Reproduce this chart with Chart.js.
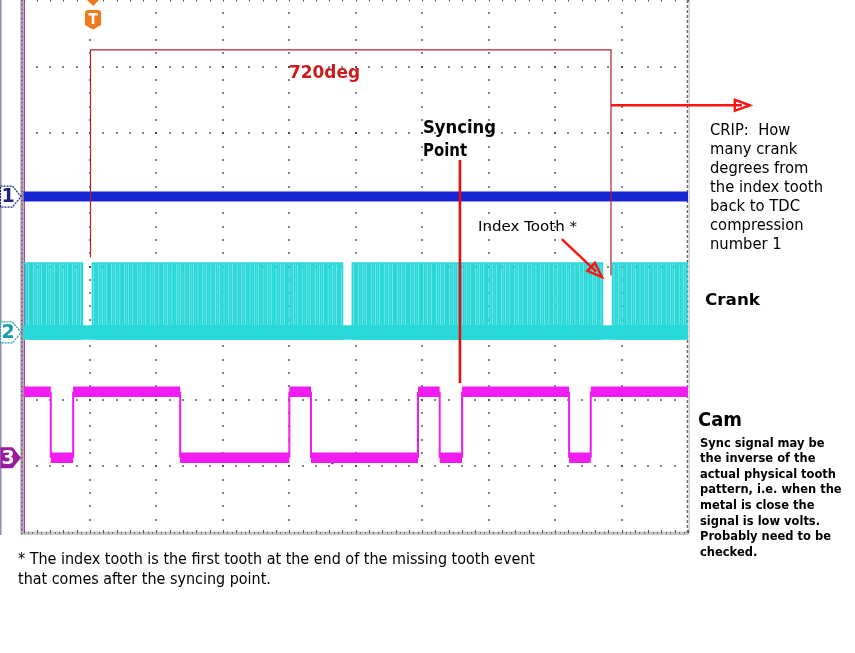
<!DOCTYPE html>
<html>
<head>
<meta charset="utf-8">
<script src="https://cdn.jsdelivr.net/npm/chart.js@4.4.0/dist/chart.umd.min.js"></script>
<style>
  html, body { margin: 0; padding: 0; background: #ffffff; }
  canvas { display: block; }
</style>
</head>
<body>
<canvas id="scope" width="855" height="653"></canvas>
<script>
// ---------------- DATA ----------------
// x axis: crank angle in degrees (0 = start of the 720deg window), y axis: screen divisions (0 = bottom)
const xRangeDeg = [-92.7, 826.5];
const yRangeDiv = [0, 8];

// Channel 1 (blue): flat line
const ch1Deg   = [-100, 835];
const ch1Level = [5.05, 5.05];

// Channel 2 (cyan): crank sensor, 60-2 trigger wheel
const crankRevStartDeg = [-357, 3, 362.5, 722.5];     // first tooth after each missing-tooth gap
const crankWheelSlots  = "111111111111111111111111111111111111111111111111111111111100"; // 58 teeth + 2 missing
const crankSlotDeg     = 6;
const crankToothHighDeg = 3.3;
const crankHighLevel   = 4.05;
const crankLowLevel    = 3.01;

// Channel 3 (magenta): cam sensor
const camEdgeDeg = [-55, -24, 124, 275, 305, 453, 483, 514, 662, 692];
const camLevel   = [2.12, 1.13, 2.12, 1.13, 2.12, 1.13, 2.12, 1.13, 2.12, 1.13, 2.12];

// small blue glitch near the cam trace
const glitchDeg   = [333.6, 344.2];
const glitchLevel = [1.04, 1.175];

// Annotations (data coordinates)
const windowDeg      = [0, 720];
const windowLevel    = 7.25;
const windowLegEnd   = [4.14, 3.87];
const syncDeg        = 511;
const syncLevels     = [5.6, 2.25];
const cripArrow      = [[720, 6.42], [912, 6.42]];
const indexArrow     = [[652, 4.41], [707.5, 3.84]];
const triggerDeg     = 3.5;

// ---------------- build series ----------------
const ch1Data = ch1Deg.map((x, i) => ({ x, y: ch1Level[i] }));

const crankData = [{ x: xRangeDeg[0] - 20, y: crankLowLevel }];
for (const r of crankRevStartDeg) {
  for (let j = 0; j < crankWheelSlots.length; j++) {
    if (crankWheelSlots[j] !== '1') continue;
    const a = r + j * crankSlotDeg;
    if (a + crankToothHighDeg < xRangeDeg[0] - 12 || a > xRangeDeg[1] + 12) continue;
    crankData.push({ x: a, y: crankLowLevel }, { x: a, y: crankHighLevel },
                   { x: a + crankToothHighDeg, y: crankHighLevel }, { x: a + crankToothHighDeg, y: crankLowLevel });
  }
}
crankData.push({ x: xRangeDeg[1] + 20, y: crankLowLevel });

const camData = [{ x: xRangeDeg[0] - 20, y: camLevel[0] }];
camEdgeDeg.forEach((e, i) => {
  camData.push({ x: e, y: camLevel[i] }, { x: e, y: camLevel[i + 1] });
});
camData.push({ x: xRangeDeg[1] + 20, y: camLevel[camLevel.length - 1] });

const glitchData = glitchDeg.map((x, i) => ({ x, y: glitchLevel[i] }));

const isFlat = c => c.p0.parsed.y === c.p1.parsed.y;

// ---------------- plugins ----------------
const FONT = '"DejaVu Sans", "Liberation Sans", sans-serif';

const paper = {
  id: 'paper',
  beforeDraw(chart) {
    const ctx = chart.ctx;
    ctx.save();
    ctx.fillStyle = '#ffffff';
    ctx.fillRect(0, 0, chart.width, chart.height);
    ctx.restore();
  }
};

const scopeGrid = {
  id: 'scopeGrid',
  beforeDatasetsDraw(chart) {
    const { ctx, chartArea: a, scales: { x, y } } = chart;
    const div = (xRangeDeg[1] - xRangeDeg[0]) / 10;
    ctx.save();
    // outer frame
    ctx.fillStyle = '#8a8fb4';
    ctx.fillRect(0, 0, 1.5, a.bottom + 2);
    ctx.fillStyle = '#9a9a9a';
    ctx.fillRect(a.left - 3, 0, 2.5, a.bottom + 2);
    ctx.fillStyle = '#c8c8c8';
    ctx.fillRect(a.left - 3, a.bottom - 1.5, a.right - a.left + 3, 3.5);
    ctx.fillStyle = '#b040b0';
    ctx.fillRect(a.left, 0, 1.5, a.bottom);
    // right dashed border
    ctx.strokeStyle = '#7a5a7a';
    ctx.lineWidth = 1.5;
    ctx.setLineDash([3, 2]);
    ctx.beginPath();
    ctx.moveTo(a.right - 0.5, 0);
    ctx.lineTo(a.right - 0.5, a.bottom);
    ctx.stroke();
    ctx.setLineDash([]);
    ctx.fillStyle = '#d8d0d8';
    ctx.fillRect(a.right + 0.5, 0, 1.5, a.bottom);

    // dotted grid
    ctx.fillStyle = '#2a2a2a';
    const dot = (px, py) => ctx.fillRect(Math.round(px) - 0.75, Math.round(py) - 0.75, 1.5, 1.5);
    for (let i = 1; i < 10; i++) {
      const px = x.getPixelForValue(xRangeDeg[0] + i * div);
      for (let k = 1; k < 40; k++) dot(px, y.getPixelForValue(k * 0.2));
    }
    for (let j = 1; j < 8; j++) {
      const py = y.getPixelForValue(j);
      for (let k = 1; k < 50; k++) dot(x.getPixelForValue(xRangeDeg[0] + k * div / 5), py);
    }
    // dense ticks on border lines
    ctx.fillStyle = '#555555';
    for (let k = 0; k <= 150; k++) {
      const px = x.getPixelForValue(xRangeDeg[0] + k * div / 15);
      ctx.fillRect(Math.round(px), a.bottom - 1, 1, 1.5);
    }
    for (let k = 0; k <= 50; k++) {
      const px = x.getPixelForValue(xRangeDeg[0] + k * div / 5);
      ctx.fillRect(Math.round(px), a.bottom - 3, 1, 3);
      ctx.fillRect(Math.round(px), 0, 1, 1.5);
    }
    for (let k = 0; k <= 120; k++) {
      const py = y.getPixelForValue(k * 8 / 120);
      ctx.fillRect(a.left - 2.5, Math.round(py), 1.5, 1);
    }
    ctx.restore();
  }
};

function arrowHead(ctx, x0, y0, x1, y1, len, half) {
  const ang = Math.atan2(y1 - y0, x1 - x0);
  const bx = x1 - len * Math.cos(ang), by = y1 - len * Math.sin(ang);
  const nx = -Math.sin(ang) * half, ny = Math.cos(ang) * half;
  ctx.beginPath();
  ctx.moveTo(x1, y1);
  ctx.lineTo(bx + nx, by + ny);
  ctx.lineTo(bx - nx, by - ny);
  ctx.closePath();
  ctx.stroke();
}

const annotations = {
  id: 'annotations',
  afterDatasetsDraw(chart) {
    const { ctx, scales: { x, y } } = chart;
    const X = v => x.getPixelForValue(v), Y = v => y.getPixelForValue(v);
    ctx.save();
    // 720 deg bracket
    ctx.strokeStyle = '#b8202c';
    ctx.lineWidth = 1.2;
    ctx.beginPath();
    ctx.moveTo(X(windowDeg[0]), Y(windowLegEnd[0]));
    ctx.lineTo(X(windowDeg[0]), Y(windowLevel));
    ctx.lineTo(X(windowDeg[1]), Y(windowLevel));
    ctx.lineTo(X(windowDeg[1]), Y(windowLegEnd[1]));
    ctx.stroke();
    // syncing point line
    ctx.strokeStyle = '#e80c0c';
    ctx.lineWidth = 2.6;
    ctx.beginPath();
    ctx.moveTo(X(syncDeg), Y(syncLevels[0]));
    ctx.lineTo(X(syncDeg), Y(syncLevels[1]));
    ctx.stroke();
    // arrows
    ctx.strokeStyle = '#ff1212';
    ctx.lineWidth = 2.4;
    for (const arr of [cripArrow, indexArrow]) {
      const x0 = X(arr[0][0]), y0 = Y(arr[0][1]), x1 = X(arr[1][0]), y1 = Y(arr[1][1]);
      const ang = Math.atan2(y1 - y0, x1 - x0);
      ctx.beginPath();
      ctx.moveTo(x0, y0);
      ctx.lineTo(x1 - 8 * Math.cos(ang), y1 - 8 * Math.sin(ang));
      ctx.stroke();
      ctx.lineWidth = 2.4;
      arrowHead(ctx, x0, y0, x1, y1, 15, 5.5);
    }
    ctx.restore();
  }
};

function drawText(ctx, s, x, base, size, weight, color, width) {
  ctx.save();
  ctx.font = `${weight} ${size}px ${FONT}`;
  const m = ctx.measureText(s).width;
  const sx = width ? width / m : 1;
  ctx.translate(x, base);
  ctx.scale(sx, 1);
  ctx.fillStyle = color;
  ctx.textBaseline = 'alphabetic';
  ctx.fillText(s, 0, 0);
  ctx.restore();
}
function drawBlock(ctx, lines, x, base, step, size, weight, color, refIdx, refWidth) {
  ctx.save();
  ctx.font = `${weight} ${size}px ${FONT}`;
  const sx = refWidth / ctx.measureText(lines[refIdx]).width;
  ctx.restore();
  lines.forEach((s, i) => {
    ctx.save();
    ctx.font = `${weight} ${size}px ${FONT}`;
    ctx.translate(x, base + i * step);
    ctx.scale(sx, 1);
    ctx.fillStyle = color;
    ctx.fillText(s, 0, 0);
    ctx.restore();
  });
}

function channelMarker(ctx, yc, color, label, filled) {
  ctx.save();
  ctx.beginPath();
  ctx.moveTo(0.5, yc - 10.5);
  ctx.lineTo(12.5, yc - 10.5);
  ctx.lineTo(21, yc);
  ctx.lineTo(12.5, yc + 10.5);
  ctx.lineTo(0.5, yc + 10.5);
  ctx.closePath();
  if (filled) {
    ctx.fillStyle = color;
    ctx.fill();
  } else {
    ctx.fillStyle = '#ffffff';
    ctx.fill();
    ctx.setLineDash([2, 1]);
    ctx.strokeStyle = color;
    ctx.lineWidth = 1.2;
    ctx.stroke();
  }
  ctx.setLineDash([]);
  ctx.font = `bold 19px ${FONT}`;
  ctx.fillStyle = filled ? '#ffffff' : color;
  ctx.textBaseline = 'middle';
  ctx.fillText(label, 1.5, yc + 1);
  ctx.restore();
}

const overlay = {
  id: 'overlay',
  afterDraw(chart) {
    const { ctx, scales: { x, y } } = chart;
    // trigger marker
    const tx = x.getPixelForValue(triggerDeg);
    ctx.save();
    ctx.fillStyle = '#f07a1a';
    ctx.beginPath();
    ctx.moveTo(tx - 6, 0); ctx.lineTo(tx + 6, 0); ctx.lineTo(tx, 6); ctx.closePath();
    ctx.fill();
    ctx.beginPath();
    ctx.moveTo(tx - 8, 13); ctx.quadraticCurveTo(tx - 8, 10, tx - 5, 10);
    ctx.lineTo(tx + 5, 10); ctx.quadraticCurveTo(tx + 8, 10, tx + 8, 13);
    ctx.lineTo(tx + 8, 25); ctx.lineTo(tx, 29.5); ctx.lineTo(tx - 8, 25); ctx.closePath();
    ctx.fill();
    ctx.fillStyle = '#ffffff';
    ctx.fillRect(tx - 4.5, 13, 9, 2.5);
    ctx.fillRect(tx - 1.3, 13, 2.6, 11);
    ctx.restore();

    // channel markers
    channelMarker(ctx, y.getPixelForValue(ch1Level[0]), '#1c2480', '1', false);
    channelMarker(ctx, y.getPixelForValue(crankLowLevel), '#18a0a8', '2', false);
    channelMarker(ctx, y.getPixelForValue(camLevel[1]), '#9a1aa0', '3', true);

    // texts
    drawText(ctx, '720deg', 289, 78, 18, 'bold', '#cc1a1a', 71);
    drawText(ctx, 'Syncing', 423, 133, 17, 'bold', '#000000', 73);
    drawText(ctx, 'Point', 423, 155.5, 17, 'bold', '#000000', 44);
    drawText(ctx, 'Index Tooth *', 478, 231, 14, 'normal', '#000000', 99);
    drawBlock(ctx, ['CRIP:  How', 'many crank', 'degrees from', 'the index tooth', 'back to TDC', 'compression', 'number 1'],
              710, 135, 19, 15, 'normal', '#000000', 3, 113);
    drawText(ctx, 'Crank', 705, 305, 16, 'bold', '#000000', 55);
    drawText(ctx, 'Cam', 698, 426, 19, 'bold', '#000000', 44);
    drawBlock(ctx, ['Sync signal may be', 'the inverse of the', 'actual physical tooth', 'pattern, i.e. when the',
                    'metal is close the', 'signal is low volts.', 'Probably need to be', 'checked.'],
              700, 446.5, 15.6, 12.5, 'bold', '#000000', 2, 136);
    drawBlock(ctx, ['* The index tooth is the first tooth at the end of the missing tooth event',
                    'that comes after the syncing point.'],
              18, 564, 20, 16, 'normal', '#000000', 0, 517);
  }
};

// ---------------- chart ----------------
new Chart(document.getElementById('scope'), {
  type: 'line',
  data: {
    datasets: [
      {
        label: 'Channel 1',
        data: ch1Data,
        borderColor: '#1626d2',
        borderWidth: 10,
        pointRadius: 0
      },
      {
        label: 'Crank',
        data: crankData,
        borderColor: '#28d8d8',
        borderWidth: 2.05,
        pointRadius: 0,
        segment: {
          borderWidth: c => (isFlat(c) && c.p0.parsed.y === crankLowLevel ? 14 : undefined),
          borderCapStyle: c => (isFlat(c) && c.p0.parsed.y === crankLowLevel ? 'square' : undefined)
        }
      },
      {
        label: 'Cam',
        data: camData,
        borderColor: '#f01cf0',
        borderWidth: 2,
        pointRadius: 0,
        segment: {
          borderWidth: c => (isFlat(c) ? 10.5 : undefined)
        }
      },
      {
        label: 'glitch',
        data: glitchData,
        borderColor: '#1a3ad0',
        borderWidth: 2.5,
        pointRadius: 0
      }
    ]
  },
  options: {
    responsive: false,
    animation: false,
    devicePixelRatio: 1,
    parsing: true,
    layout: { padding: { left: 23.5, right: 167, top: 0, bottom: 120 } },
    elements: { line: { tension: 0, borderCapStyle: 'butt', borderJoinStyle: 'miter' } },
    scales: {
      x: { type: 'linear', min: xRangeDeg[0], max: xRangeDeg[1], display: false },
      y: { type: 'linear', min: yRangeDiv[0], max: yRangeDiv[1], display: false }
    },
    plugins: { legend: { display: false }, tooltip: { enabled: false } }
  },
  plugins: [paper, scopeGrid, annotations, overlay]
});
</script>
</body>
</html>
